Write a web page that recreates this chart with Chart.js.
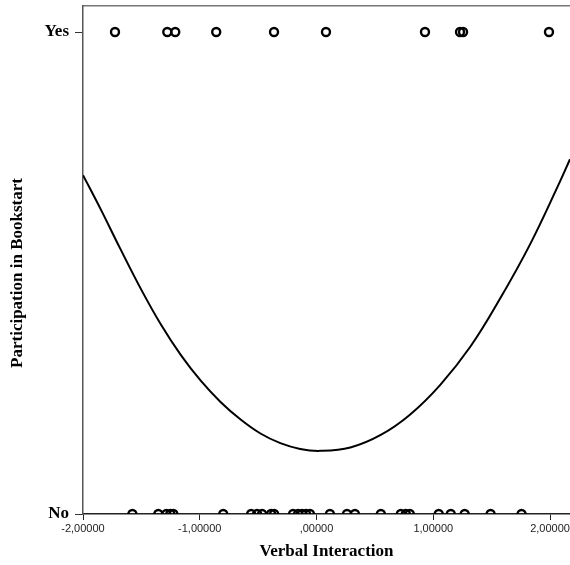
<!DOCTYPE html>
<html><head><meta charset="utf-8">
<script src="https://cdn.jsdelivr.net/npm/chart.js@4"></script>
<style>html,body{margin:0;padding:0;background:#fff;overflow:hidden}canvas{display:block}</style>
</head><body>
<canvas id="c" width="570" height="565"></canvas>
<script>
const yesX = [-1.726, -1.278, -1.210, -0.859, -0.364, 0.081, 0.929, 1.229, 1.255, 1.991];
const noX = [-1.577, -1.355, -1.286, -1.252, -1.226, -0.799, -0.560, -0.509, -0.466, -0.389,
  -0.363, -0.201, -0.158, -0.124, -0.090, -0.056, 0.115, 0.261, 0.329, 0.551,
  0.722, 0.765, 0.799, 1.047, 1.150, 1.269, 1.491, 1.756];
const curveX = [-2.00, -1.85, -1.68, -1.50, -1.33, -1.16, -0.99, -0.82, -0.65, -0.48, -0.31,
  -0.14, 0.03, 0.29, 0.55, 0.80, 1.06, 1.32, 1.57, 1.83, 2.08, 2.171];
const curveY = [0.703, 0.633, 0.550, 0.465, 0.392, 0.329, 0.276, 0.232, 0.196, 0.167, 0.147,
  0.135, 0.131, 0.138, 0.164, 0.206, 0.268, 0.348, 0.446, 0.560, 0.687, 0.736];
const xTickValues = [-2, -1, 0, 1, 2];
const xTickLabels = ['-2,00000', '-1,00000', ',00000', '1,00000', '2,00000'];
const yTickValues = [0, 1];
const yTickLabels = ['No', 'Yes'];
const xTitle = 'Verbal Interaction';
const yTitle = 'Participation in Bookstart';

const serif = 'Liberation Serif';
const sans = 'Liberation Sans';

const yTitlePlugin = {
  id: 'yTitle',
  afterDraw(chart) {
    const ctx = chart.ctx;
    const ca = chart.chartArea;
    ctx.save();
    ctx.translate(18, (ca.top + ca.bottom) / 2 + 13);
    ctx.rotate(-Math.PI / 2);
    ctx.font = 'bold 17px "' + serif + '"';
    ctx.fillStyle = '#000';
    ctx.textAlign = 'center';
    ctx.textBaseline = 'middle';
    ctx.fillText(yTitle, 0, 0);
    ctx.restore();
  }
};

const circleStyle = {
  pointRadius: 4,
  pointHoverRadius: 4,
  pointBorderWidth: 2.4,
  pointBorderColor: '#000',
  pointBackgroundColor: 'rgba(0,0,0,0)',
  showLine: false,
  clip: 0
};

new Chart(document.getElementById('c'), {
  type: 'scatter',
  data: {
    datasets: [
      Object.assign({ label: 'Yes', data: yesX.map(x => ({ x: x, y: 1 })) }, circleStyle),
      Object.assign({ label: 'No', data: noX.map(x => ({ x: x, y: 0 })) }, circleStyle),
      {
        label: 'Fit',
        type: 'line',
        data: curveX.map((x, i) => ({ x: x, y: curveY[i] })),
        borderColor: '#000',
        borderWidth: 2,
        pointRadius: 0,
        tension: 0.4,
        fill: false,
        clip: 0
      }
    ]
  },
  options: {
    responsive: false,
    animation: false,
    events: [],
    layout: { autoPadding: false, padding: { top: 6, left: 0, right: 0, bottom: 0 } },
    plugins: { legend: { display: false }, tooltip: { enabled: false } },
    scales: {
      x: {
        type: 'linear',
        position: 'bottom',
        min: -2,
        max: 2.171,
        afterBuildTicks: s => { s.ticks = xTickValues.map(v => ({ value: v })); },
        afterFit: s => { s.height = 51; s.paddingLeft = 0; s.paddingRight = 0; },
        ticks: {
          callback: v => xTickLabels[xTickValues.indexOf(v)],
          font: { family: sans, size: 11 },
          color: '#222',
          padding: 2,
          maxRotation: 0,
          autoSkip: false
        },
        grid: { drawOnChartArea: false, drawTicks: true, tickLength: 6, color: '#222', lineWidth: 1 },
        border: { display: true, color: '#222', width: 1.5 },
        title: {
          display: true,
          text: xTitle,
          font: { family: serif, size: 17, weight: 'bold' },
          color: '#000',
          padding: { top: 0, bottom: 3 }
        }
      },
      x2: {
        type: 'linear',
        position: 'top',
        min: -2,
        max: 2.171,
        ticks: { display: false },
        grid: { display: false, drawTicks: false },
        border: { display: true, color: '#777', width: 1.5 },
        afterFit: s => { s.height = 0; s.paddingLeft = 0; s.paddingRight = 0; }
      },
      y: {
        type: 'linear',
        position: 'left',
        min: 0,
        max: 1.054,
        afterBuildTicks: s => { s.ticks = yTickValues.map(v => ({ value: v })); },
        afterFit: s => { s.width = 83; s.paddingTop = 0; s.paddingBottom = 0; },
        ticks: {
          callback: v => yTickLabels[yTickValues.indexOf(v)],
          font: { family: serif, size: 17, weight: 'bold' },
          color: '#000',
          padding: 6,
          autoSkip: false
        },
        grid: { drawOnChartArea: false, drawTicks: true, tickLength: 8, color: '#333', lineWidth: 1 },
        border: { display: true, color: '#555', width: 1.5 }
      }
    }
  },
  plugins: [yTitlePlugin]
});
</script>
</body></html>
